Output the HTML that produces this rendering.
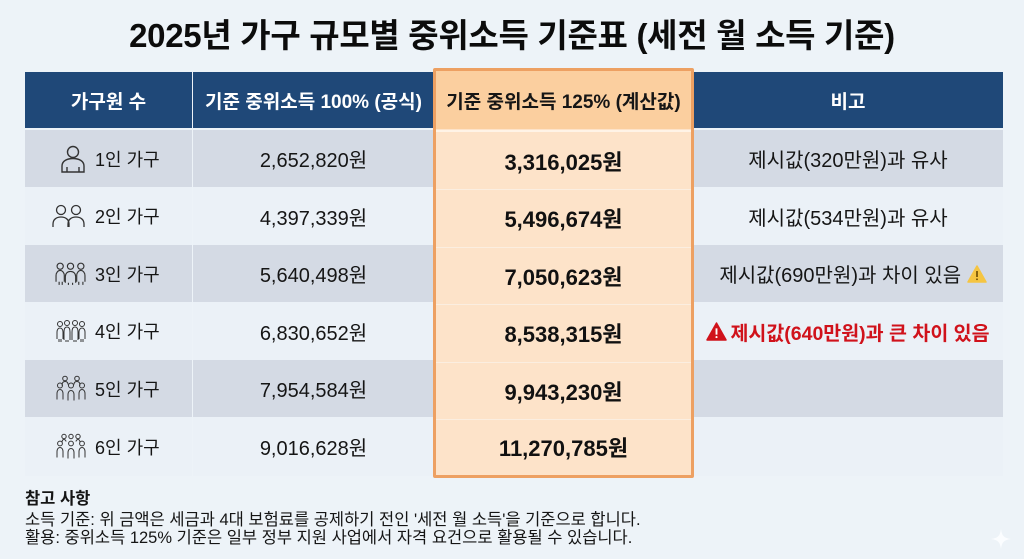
<!DOCTYPE html>
<html><head><meta charset="utf-8">
<style>
*{margin:0;padding:0;box-sizing:border-box}
html,body{width:1024px;height:559px;overflow:hidden}
body{background:#edf3f8;font-family:"Liberation Sans","Noto Sans CJK KR",sans-serif;position:relative;color:#151515}
.title{position:absolute;left:0;top:13px;width:1024px;text-align:center;font-size:33px;font-weight:700;color:#0c0c0c;font-family:"Liberation Sans","Noto Sans CJK KR",sans-serif;letter-spacing:-0.3px;line-height:46px;white-space:nowrap}
.abs{position:absolute}
.hdr{background:#1f4878;color:#fff;font-weight:700;font-size:19px;display:flex;align-items:center;justify-content:center;font-family:"Liberation Sans","Noto Sans CJK KR",sans-serif;white-space:nowrap}
.cell{display:flex;align-items:center;justify-content:center;font-size:20px;font-family:"Liberation Sans","Noto Sans CJK KR",sans-serif;white-space:nowrap}
.g{background:#d4dae4}
.l{background:#ebf1f7}
.orange{position:absolute;left:433px;top:68px;width:261px;height:410px;border:3px solid #eda062;background:#fde3c9;border-radius:2px}
.ohdr{position:absolute;left:0;top:0;width:255px;height:58px;background:#fbcf9f;display:flex;align-items:center;justify-content:center;font-weight:700;font-size:19px;font-family:"Liberation Sans","Noto Sans CJK KR",sans-serif;color:#161616;white-space:nowrap}
.oval{position:absolute;left:0;width:255px;display:flex;align-items:center;justify-content:center;font-weight:700;font-size:22px;font-family:"Liberation Sans","Noto Sans CJK KR",sans-serif;color:#111}
.osep{position:absolute;left:0;width:255px;height:1px;background:#fbeee0}
.c1{font-size:18px}
.c1 .ic{position:absolute;left:27px;top:50%;transform:translateY(-50%);width:34px;height:28px;display:flex;align-items:center;justify-content:flex-end}
.c1 .tx{position:absolute;left:70px;top:0;height:100%;display:flex;align-items:center}
.foot{position:absolute;left:25px;font-size:16.5px;font-family:"Liberation Sans","Noto Sans CJK KR",sans-serif;color:#151515;line-height:19px;white-space:nowrap}
</style></head><body>
<div class="title">2025년 가구 규모별 중위소득 기준표 (세전 월 소득 기준)</div>

<!-- header -->
<div class="abs hdr" style="left:25px;top:72px;width:167px;height:56px">가구원 수</div>
<div class="abs hdr" style="left:193px;top:72px;width:241px;height:56px">기준 중위소득 100% (공식)</div>
<div class="abs hdr" style="left:693px;top:72px;width:310px;height:56px">비고</div>

<!-- rows col1 -->
<div class="abs cell c1 g" style="left:25px;top:130px;width:167px;height:57px"><div class="ic"><svg width="26" height="28" viewBox="0 0 26 28" fill="none" stroke="#333" stroke-width="1.4"><circle cx="13" cy="7" r="5.5"/><path d="M2 27v-6c0-5 5-7.5 11-7.5s11 2.5 11 7.5v6z"/><path d="M7 27v-5M19 27v-5"/></svg></div><div class="tx">1인 가구</div></div>
<div class="abs cell c1 l" style="left:25px;top:187px;width:167px;height:58px"><div class="ic"><svg width="34" height="24" viewBox="0 0 34 24" fill="none" stroke="#333" stroke-width="1.3"><circle cx="9" cy="6" r="4.5"/><circle cx="24" cy="6" r="4.5"/><path d="M1 23v-3c0-4.5 3.5-7 8-7s8 2.5 8 7v3"/><path d="M16 23v-3c0-4.5 3.5-7 8-7s8 2.5 8 7v3"/></svg></div><div class="tx">2인 가구</div></div>
<div class="abs cell c1 g" style="left:25px;top:245px;width:167px;height:57px"><div class="ic"><svg width="31" height="25" viewBox="0 0 30 24" fill="none" stroke="#333" stroke-width="1.1"><circle cx="5" cy="5" r="3"/><circle cx="15" cy="5" r="3"/><circle cx="25" cy="5" r="3"/><path d="M1 20v-6c0-3 2-5 4-5s4 2 4 5v6M4 20v3M7 20v3"/><path d="M10 21v-6c0-3 2-5 5-5s5 2 5 5v6M13 21v2M17 21v2"/><path d="M21 20v-6c0-3 2-5 4-5s4 2 4 5v6M23 20v3M27 20v3"/></svg></div><div class="tx">3인 가구</div></div>
<div class="abs cell c1 l" style="left:25px;top:302px;width:167px;height:58px"><div class="ic"><svg width="30" height="24" viewBox="0 0 30 24" fill="none" stroke="#333" stroke-width="1"><circle cx="4" cy="5" r="2.5"/><circle cx="11" cy="4" r="2.5"/><circle cx="19" cy="4" r="2.5"/><circle cx="26" cy="5" r="2.5"/><path d="M1 20v-7c0-2 1-4 3-4s3 2 3 4v7M3 20v3M5 20v3"/><path d="M8 21v-8c0-3 1-5 3-5s3 2 3 5v8M10 21v2M12 21v2"/><path d="M16 21v-8c0-3 1-5 3-5s3 2 3 5v8M18 21v2M20 21v2"/><path d="M23 20v-7c0-2 1-4 3-4s3 2 3 4v7M25 20v3M27 20v3"/></svg></div><div class="tx">4인 가구</div></div>
<div class="abs cell c1 g" style="left:25px;top:360px;width:167px;height:57px"><div class="ic"><svg width="30" height="27" viewBox="0 0 30 26" fill="none" stroke="#333" stroke-width="1"><circle cx="9" cy="3" r="2.3"/><circle cx="21" cy="3" r="2.3"/><circle cx="4" cy="10" r="2.5"/><circle cx="15" cy="10" r="2.5"/><circle cx="26" cy="10" r="2.5"/><path d="M1 24v-6c0-2 1-4 3-4s3 2 3 4v6"/><path d="M12 25v-6c0-2 1-4 3-4s3 2 3 4v6"/><path d="M23 24v-6c0-2 1-4 3-4s3 2 3 4v6"/><path d="M6 10c0-3 1-4 3-4s3 1 3 3M18 9c0-2 1-3 3-3s3 1 3 4"/></svg></div><div class="tx">5인 가구</div></div>
<div class="abs cell c1 l" style="left:25px;top:417px;width:167px;height:59px"><div class="ic"><svg width="30" height="27" viewBox="0 0 30 26" fill="none" stroke="#333" stroke-width="1"><circle cx="8" cy="3" r="2.2"/><circle cx="15" cy="3" r="2.2"/><circle cx="22" cy="3" r="2.2"/><circle cx="4" cy="10" r="2.4"/><circle cx="15" cy="10" r="2.4"/><circle cx="26" cy="10" r="2.4"/><path d="M1 24v-6c0-2 1-4 3-4s3 2 3 4v6"/><path d="M12 25v-6c0-2 1-4 3-4s3 2 3 4v6"/><path d="M23 24v-6c0-2 1-4 3-4s3 2 3 4v6"/><path d="M6 9c0-2 1-3 2-3s2 1 2 2M20 8c0-1 1-2 2-2s2 1 2 3"/></svg></div><div class="tx">6인 가구</div></div>

<!-- col2 -->
<div class="abs cell g" style="left:193px;top:130px;width:241px;height:57px">2,652,820원</div>
<div class="abs cell l" style="left:193px;top:187px;width:241px;height:58px">4,397,339원</div>
<div class="abs cell g" style="left:193px;top:245px;width:241px;height:57px">5,640,498원</div>
<div class="abs cell l" style="left:193px;top:302px;width:241px;height:58px">6,830,652원</div>
<div class="abs cell g" style="left:193px;top:360px;width:241px;height:57px">7,954,584원</div>
<div class="abs cell l" style="left:193px;top:417px;width:241px;height:59px">9,016,628원</div>

<!-- col4 -->
<div class="abs cell g" style="left:693px;top:130px;width:310px;height:57px">제시값(320만원)과 유사</div>
<div class="abs cell l" style="left:693px;top:187px;width:310px;height:58px">제시값(534만원)과 유사</div>
<div class="abs cell g" style="left:693px;top:245px;width:310px;height:57px;padding-left:10px">제시값(690만원)과 차이 있음&nbsp;<svg width="20" height="18" viewBox="0 0 20 18"><path d="M10 1L19 17H1z" fill="#f5c542" stroke="#f5c542" stroke-linejoin="round" stroke-width="1.5"/><path d="M10 6v6" stroke="#6b4a00" stroke-width="1.6"/><circle cx="10" cy="14.3" r="0.9" fill="#6b4a00"/></svg></div>
<div class="abs cell l" style="left:693px;top:302px;width:310px;height:58px;color:#d0121b;font-weight:700;font-size:19.5px;padding-left:0px"><svg width="21" height="19" viewBox="0 0 20 18" style="margin-right:3px"><path d="M10 1L19 17H1z" fill="#d0121b" stroke="#d0121b" stroke-linejoin="round" stroke-width="1.5"/><path d="M10 6v6" stroke="#fff" stroke-width="1.8"/><circle cx="10" cy="14.3" r="1" fill="#fff"/></svg>제시값(640만원)과 큰 차이 있음</div>
<div class="abs cell g" style="left:693px;top:360px;width:310px;height:57px"></div>
<div class="abs cell l" style="left:693px;top:417px;width:310px;height:59px"></div>

<!-- orange column -->
<div class="orange">
  <div class="ohdr">기준 중위소득 125% (계산값)</div>
  <div class="osep" style="top:59px;background:#fff3e6;height:2px"></div>
  <div class="oval" style="top:61px;height:57px">3,316,025원</div>
  <div class="osep" style="top:118px"></div>
  <div class="oval" style="top:118px;height:58px">5,496,674원</div>
  <div class="osep" style="top:176px"></div>
  <div class="oval" style="top:176px;height:57px">7,050,623원</div>
  <div class="osep" style="top:233px"></div>
  <div class="oval" style="top:233px;height:58px">8,538,315원</div>
  <div class="osep" style="top:291px"></div>
  <div class="oval" style="top:291px;height:57px">9,943,230원</div>
  <div class="osep" style="top:348px"></div>
  <div class="oval" style="top:348px;height:56px">11,270,785원</div>
</div>

<!-- footer -->
<div class="foot" style="top:490px;font-weight:700">참고 사항</div>
<div class="foot" style="top:511px">소득 기준: 위 금액은 세금과 4대 보험료를 공제하기 전인 '세전 월 소득'을 기준으로 합니다.</div>
<div class="foot" style="top:529px">활용: 중위소득 125% 기준은 일부 정부 지원 사업에서 자격 요건으로 활용될 수 있습니다.</div>

<svg class="abs" style="left:990px;top:528px" width="22" height="22" viewBox="0 0 22 22"><path d="M11 1C12 8 14 10 21 11C14 12 12 14 11 21C10 14 8 12 1 11C8 10 10 8 11 1z" fill="#fbfdff"/></svg>
</body></html>
